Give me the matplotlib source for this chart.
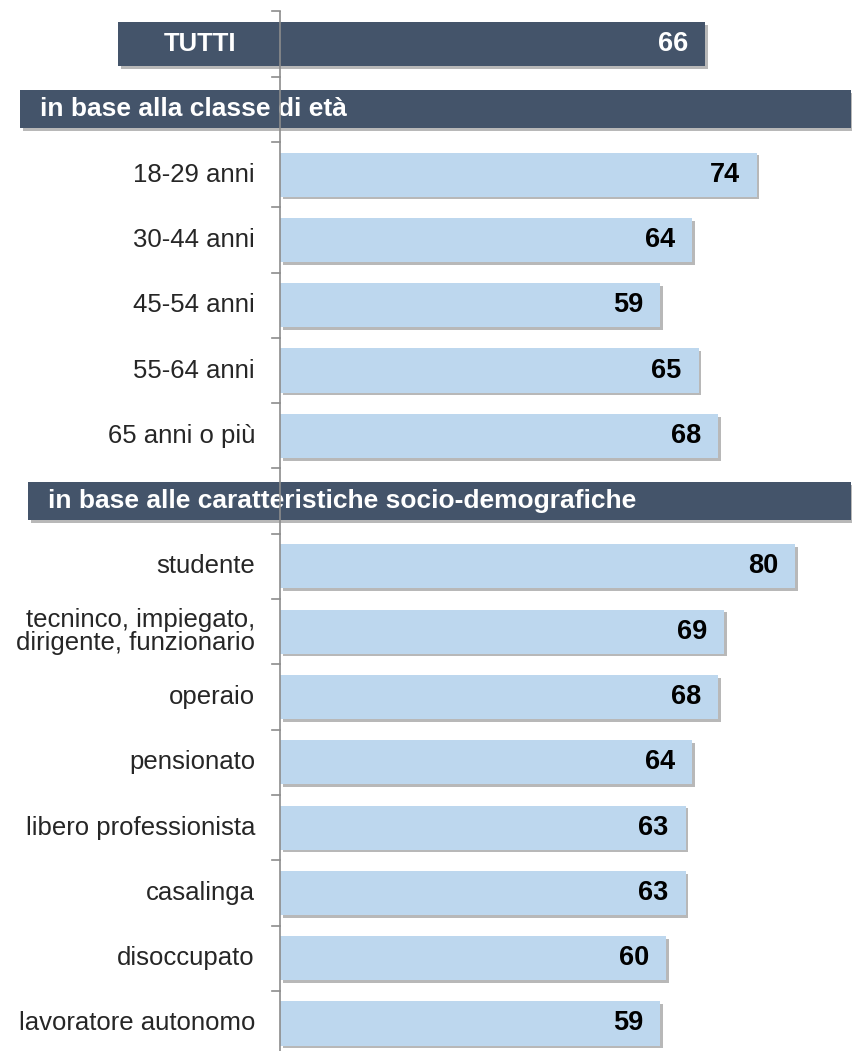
import matplotlib
matplotlib.use("Agg")
import matplotlib.pyplot as plt
import matplotlib.patheffects as pe

plt.rcParams['font.family'] = ['Liberation Sans', 'DejaVu Sans']

total_label = "TUTTI"
total_value = 66
section_titles = ["in base alla classe di età",
                  "in base alle caratteristiche socio-demografiche"]
age_labels = ["18-29 anni", "30-44 anni", "45-54 anni", "55-64 anni", "65 anni o più"]
age_values = [74, 64, 59, 65, 68]
socio_labels = ["studente", "tecninco, impiegato,\ndirigente, funzionario", "operaio",
                "pensionato", "libero professionista", "casalinga", "disoccupato",
                "lavoratore autonomo"]
socio_values = [80, 69, 68, 64, 63, 63, 60, 59]

DARK = "#44546a"
LIGHT = "#bdd7ee"
W, H = 852, 1051
PX = 6.44          # pixels per unit
ROW0, ROWH = 44, 65.3

fig = plt.figure(figsize=(W / 100, H / 100), dpi=100)
ax = fig.add_axes([0, 0, 1, 1])
ax.set_xlim(-280 / PX, (W - 280) / PX)
ax.set_ylim((H - ROW0) / ROWH, -ROW0 / ROWH)
ax.axis("off")

shadow = [pe.SimplePatchShadow(offset=(2, -2), shadow_rgbFace="#7f7f7f", alpha=0.55), pe.Normal()]

# build rows
rows = [("total", total_label, total_value), ("section", section_titles[0], None)]
rows += [("item", l, v) for l, v in zip(age_labels, age_values)]
rows += [("section", section_titles[1], None)]
rows += [("item", l, v) for l, v in zip(socio_labels, socio_values)]

for i, (kind, label, val) in enumerate(rows):
    if kind == "total":
        left = (118 - 280) / PX
        b = ax.barh(i, val - left, left=left, height=0.674, color=DARK, zorder=2)
        for p in b:
            p.set_path_effects(shadow)
        ax.text((200 - 280) / PX, i, label, color="white", fontsize=18.5, fontweight="bold",
                ha="center", va="center", zorder=4)
        ax.text(val - 17 / PX, i, str(val), color="white", fontsize=19.5, fontweight="bold",
                ha="right", va="center", zorder=4)
    elif kind == "section":
        left = ((20 if i == 1 else 28) - 280) / PX
        right = (851 - 280) / PX
        b = ax.barh(i, right - left, left=left, height=0.58, color=DARK, zorder=3)
        for p in b:
            p.set_path_effects(shadow)
        ax.text(left + 20 / PX, i, label, color="white", fontsize=19, fontweight="bold",
                ha="left", va="center", zorder=4)
    else:
        b = ax.barh(i, val, left=0, height=0.674, color=LIGHT, zorder=2)
        for p in b:
            p.set_path_effects(shadow)
        ax.text(val - 17 / PX, i, str(val), color="black", fontsize=19.5, fontweight="bold",
                ha="right", va="center", zorder=4)
        ax.text(-25 / PX, i, label, color="#262626", fontsize=18.5, ha="right", va="center",
                linespacing=0.95, zorder=4)

# axis line and ticks
n = len(rows)
ax.plot([0, 0], [-0.5, n + 1], color="#8c8c8c", lw=1.2, zorder=5, solid_capstyle="butt")
for k in range(n):
    ax.plot([-8 / PX, 0], [k - 0.5, k - 0.5], color="#8c8c8c", lw=1.2, zorder=1)

fig.savefig("out.png", dpi=100)
